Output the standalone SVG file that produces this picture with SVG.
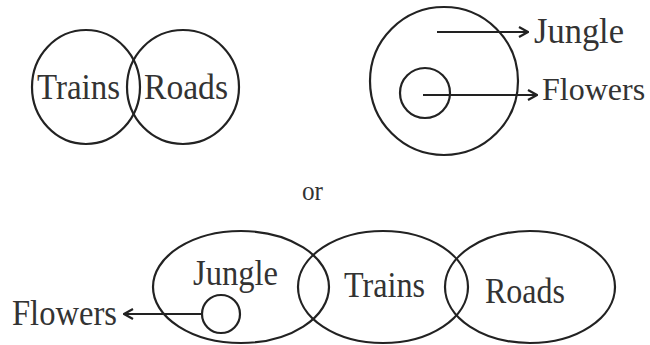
<svg xmlns="http://www.w3.org/2000/svg" width="650" height="345" viewBox="0 0 650 345">
<defs>
<style>
.s{fill:none;stroke:#222;stroke-width:2.2}
.t{font-family:'Liberation Serif','DejaVu Serif',serif;font-size:35px;fill:#333}
.c{stroke:#222;stroke-width:2.2;fill:none}
</style>
<marker id="ah" viewBox="0 0 12 12" refX="11" refY="6" markerWidth="12" markerHeight="12" markerUnits="userSpaceOnUse" orient="auto">
<path d="M2,1 L11,6 L2,11" fill="none" stroke="#222" stroke-width="2.2"/>
</marker>
</defs>
<rect width="650" height="345" fill="#fff"/>
<g id="trains1"><ellipse class="s" cx="86" cy="87" rx="54" ry="57"/><text class="t" x="37" y="99" textLength="83" lengthAdjust="spacingAndGlyphs">Trains</text></g>
<g id="roads1"><ellipse class="s" cx="183" cy="87" rx="56" ry="57"/><text class="t" x="144" y="99" textLength="84" lengthAdjust="spacingAndGlyphs">Roads</text></g>
<g id="jungle1"><ellipse class="s" cx="444" cy="81" rx="74" ry="74"/><text class="t" x="534" y="43" textLength="90" lengthAdjust="spacingAndGlyphs">Jungle</text></g>
<g id="flowers1"><circle class="s" cx="425" cy="93" r="25"/><text class="t" x="542" y="100" style="font-size:32px">Flowers</text></g>
<g id="or"><text class="t" x="302" y="200" style="font-size:28px" textLength="21" lengthAdjust="spacingAndGlyphs">or</text></g>
<g id="jungle2"><ellipse class="s" cx="241" cy="287" rx="88" ry="56"/><text class="t" x="193" y="285" textLength="85" lengthAdjust="spacingAndGlyphs">Jungle</text></g>
<g id="trains2"><ellipse class="s" cx="383" cy="287" rx="85" ry="56"/><text class="t" x="344" y="297" textLength="81" lengthAdjust="spacingAndGlyphs">Trains</text></g>
<g id="roads2"><ellipse class="s" cx="530" cy="287" rx="85" ry="56"/><text class="t" x="485" y="303" textLength="80" lengthAdjust="spacingAndGlyphs">Roads</text></g>
<g id="flowers2"><circle class="s" cx="221" cy="314" r="19"/><text class="t" x="12" y="325" textLength="105" lengthAdjust="spacingAndGlyphs">Flowers</text></g>
<g id="connectors">
<line class="c" x1="437" y1="32" x2="528" y2="32" marker-end="url(#ah)"/>
<line class="c" x1="423" y1="95" x2="537" y2="95" marker-end="url(#ah)"/>
<line class="c" x1="202" y1="314" x2="124" y2="314" marker-end="url(#ah)"/>
</g>
</svg>
